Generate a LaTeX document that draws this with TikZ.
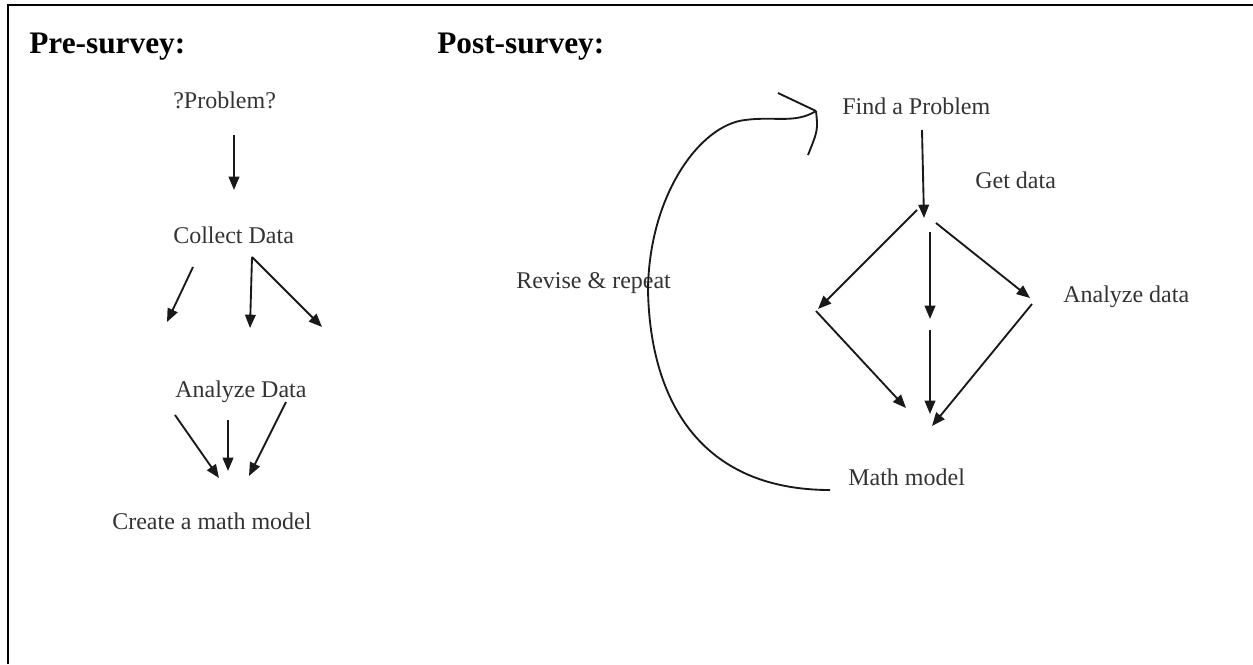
\documentclass[tikz,border=0pt]{standalone}
\usepackage{fontspec}
\setmainfont{Liberation Serif}
\usetikzlibrary{arrows.meta}
\begin{document}
\begin{tikzpicture}[x=0.75pt, y=-0.75pt]
        \tikzset{Head/.style={anchor=base west, inner sep=0pt, font=\fontsize{23.5}{26}\selectfont\bfseries}}
        \tikzset{Lbl/.style={anchor=base west, inner sep=0pt, text=black!80, font=\fontsize{18}{20}\selectfont}}
        \tikzset{Arr/.style={draw=black!90, line width=1.4pt, -{Triangle[length=10pt, width=8pt]}}}
        \tikzset{Line/.style={draw=black!90, line width=1.4pt}}
        \useasboundingbox (0,0) rectangle (1253,664);

        % frame
        \draw[line width=1.9pt] (8,664) -- (8,5) -- (1253,5);

        % nodes
        \node[Head] (pre)  at (29,53)  {Pre-survey:};
        \node[Head] (post) at (437,53) {Post-survey:};

        \node[Lbl] (prob)    at (173,108) {?Problem?};
        \node[Lbl] (collect) at (173,243) {Collect Data};
        \node[Lbl] (analyze) at (175,397) {Analyze Data};
        \node[Lbl] (create)  at (112,529) {Create a math model};

        \node[Lbl] (find)    at (842,114) {Find a Problem};
        \node[Lbl] (getdata) at (975,188) {Get data};
        \node[Lbl] (anadata) at (1063,302) {Analyze data};
        \node[Lbl] (model)   at (848,485) {Math model};
        \node[Lbl] (revise)  at (516,288) {Revise \& repeat};

        % arrow ends (pre-survey)
        \coordinate (p1s) at (234,135);  \coordinate (p1e) at (234,190);
        \coordinate (c1s) at (193,267);  \coordinate (c1e) at (167,322);
        \coordinate (c2s) at (252,257);  \coordinate (c2e) at (250,328);
        \coordinate (c3e) at (322,327);
        \coordinate (d1s) at (175,415);  \coordinate (d1e) at (219,478);
        \coordinate (d2s) at (228,420);  \coordinate (d2e) at (228,471);
        \coordinate (d3s) at (286,402);  \coordinate (d3e) at (249,476);

        % arrow ends (post-survey)
        \coordinate (f1s) at (922,130);  \coordinate (f1e) at (924,218);
        \coordinate (g1s) at (917,210);  \coordinate (g1e) at (818,309);
        \coordinate (g2s) at (930,232);  \coordinate (g2e) at (930,319);
        \coordinate (g3s) at (936,223);  \coordinate (g3e) at (1030,298);
        \coordinate (h1s) at (816,311);  \coordinate (h1e) at (906,408);
        \coordinate (h2s) at (930,330);  \coordinate (h2e) at (930,414);
        \coordinate (h3s) at (1032,304); \coordinate (h3e) at (932,426);
        \coordinate (rstart) at (830,490);
        \coordinate (rtip)   at (816,111);

        % arrows
        \draw[Arr] (p1s) -- (p1e);
        \draw[Arr] (c1s) -- (c1e);
        \draw[Arr] (c2s) -- (c2e);
        \draw[Arr] (c2s) -- (c3e);
        \draw[Arr] (d1s) -- (d1e);
        \draw[Arr] (d2s) -- (d2e);
        \draw[Arr] (d3s) -- (d3e);

        \draw[Arr] (f1s) -- (f1e);
        \draw[Arr] (g1s) -- (g1e);
        \draw[Arr] (g2s) -- (g2e);
        \draw[Arr] (g3s) -- (g3e);
        \draw[Arr] (h1s) -- (h1e);
        \draw[Arr] (h2s) -- (h2e);
        \draw[Arr] (h3s) -- (h3e);

        % loop back
        \draw[Line] (rstart) .. controls (700,490) and (650,400) .. (648,290)
                    .. controls (649,195) and (700,125) .. (745,120)
                    .. controls (775,116) and (795,124) .. (rtip);
        \draw[Line] (rtip) -- (778,93);
        \draw[Line] (rtip) .. controls (818,130) .. (808,155);
    \end{tikzpicture}
\end{document}
